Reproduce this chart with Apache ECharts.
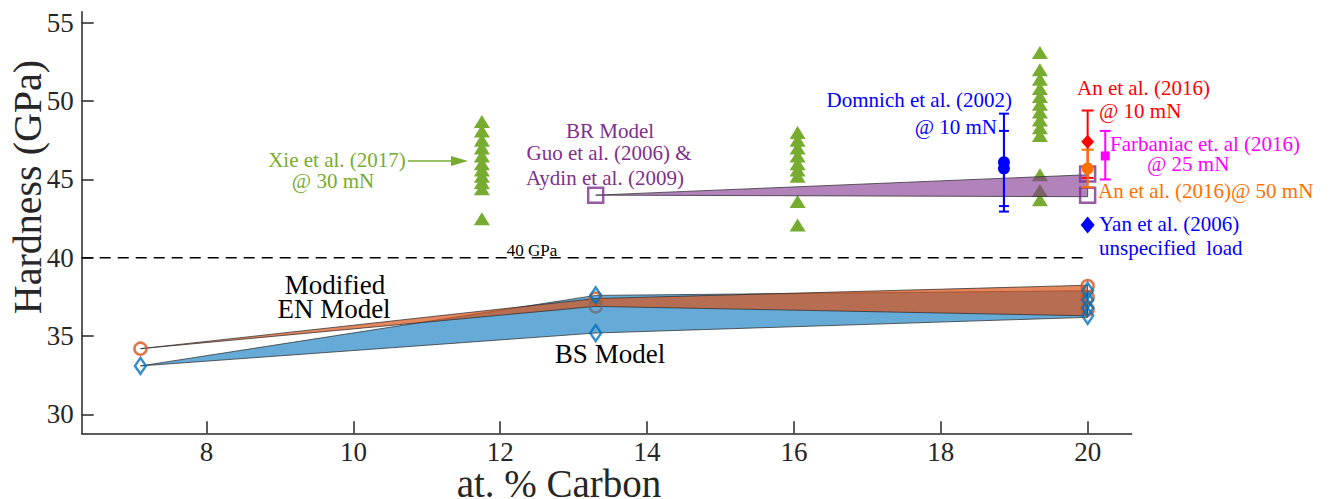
<!DOCTYPE html>
<html>
<head>
<meta charset="utf-8">
<script src="https://cdn.jsdelivr.net/npm/echarts@6/dist/echarts.min.js"></script>
<style>
  html, body { margin: 0; padding: 0; background: #fff; }
  #chart { width: 1330px; height: 499px; }
</style>
</head>
<body>
<div id="chart"></div>
<script>
const FONT = 'Liberation Serif, Times New Roman, serif';

// Axis ticks
const xTicks = [8, 10, 12, 14, 16, 18, 20];
const yTicks = [30, 35, 40, 45, 50, 55];

// Model bands (at. % C, lower / upper hardness in GPa)
const bandX = [7.1, 13.3, 20];
const bsLower = [33.1, 35.2, 36.2];
const bsUpper = [33.1, 37.6, 37.9];
const enLower = [34.2, 36.9, 36.3];
const enUpper = [34.2, 37.4, 38.25];
const brX = [13.3, 20];
const brLower = [44.0, 43.9];
const brUpper = [44.0, 45.3];

// Model points
const bsPtsX = [7.1, 13.3, 13.3, 20, 20, 20, 20];
const bsPtsY = [33.1, 37.6, 35.2, 37.9, 37.3, 36.8, 36.3];
const enPtsX = [7.1, 13.3, 20, 20, 20];
const enPtsY = [34.2, 37.4, 38.2, 37.5, 36.7];
const enMidX = [13.3];
const enMidY = [36.9];
const brPtsX = [13.3, 20, 20];
const brPtsY = [44.0, 45.35, 44.0];

// Xie et al. (2017) @ 30 mN
const xieX = [11.75, 16.05, 19.35];
const xieA = [48.7, 48.1, 47.5, 47.0, 46.5, 46.0, 45.6, 45.2, 44.8, 44.4, 42.5];
const xieB = [48.0, 47.5, 47.0, 46.5, 46.0, 45.6, 45.2, 43.6, 42.1];
const xieC = [53.1, 52.0, 51.4, 50.8, 50.3, 49.8, 49.3, 48.8, 48.3, 47.8, 45.3, 44.3, 43.7];

// Domnich et al. (2002) @ 10 mN
const domX = 18.86;
const domY = [46.1, 45.7];
const domLo = [42.95, 43.3];
const domHi = [49.2, 48.1];

// An et al. (2016) @ 10 mN and @ 50 mN
const an10 = { x: 20, y: 47.4, lo: 45.1, hi: 49.4 };
const an50 = { x: 20, y: 45.7, lo: 44.5, hi: 46.9 };
// Farbaniac et al. (2016) @ 25 mN
const farb = { x: 20.24, y: 46.5, lo: 45.0, hi: 48.1 };
// Yan et al. (2006)
const yan = { x: 20, y: 42.1 };

// 40 GPa reference
const refX = [6.3, 20];
const refY = 40;

const C = {
  axis: '#262626',
  bs: '#0072BD',
  en: '#D95319',
  br: '#7E2F8E',
  xie: '#77AC30',
  dom: '#0000FF',
  an10: '#FF0000',
  an50: '#FF7000',
  farb: '#FF00FF',
  yan: '#0000FF'
};

const pts = (xs, ys) => ys.map((y, i) => [Array.isArray(xs) ? xs[i] : xs, y]);

function band(xs, lo, hi, fill, z) {
  return {
    type: 'custom', z, silent: true,
    data: [[xs[0], lo[0]]],
    renderItem: (params, api) => {
      const p = [];
      xs.forEach((x, i) => p.push(api.coord([x, hi[i]])));
      for (let i = xs.length - 1; i >= 0; i--) p.push(api.coord([xs[i], lo[i]]));
      return {
        type: 'polygon', shape: { points: p },
        style: { fill, stroke: 'rgba(45,45,45,0.75)', lineWidth: 1 }
      };
    }
  };
}

function errBars(rows, color, cap, z) {
  return {
    type: 'custom', z, silent: true,
    data: rows,
    renderItem: (params, api) => {
      const x = api.value(0);
      const a = api.coord([x, api.value(1)]);
      const b = api.coord([x, api.value(2)]);
      const h = cap / 2;
      const st = { stroke: color, lineWidth: 2 };
      return {
        type: 'group', children: [
          { type: 'line', shape: { x1: a[0], y1: a[1], x2: b[0], y2: b[1] }, style: st },
          { type: 'line', shape: { x1: a[0] - h, y1: a[1], x2: a[0] + h, y2: a[1] }, style: st },
          { type: 'line', shape: { x1: b[0] - h, y1: b[1], x2: b[0] + h, y2: b[1] }, style: st }
        ]
      };
    }
  };
}

function scatter(data, symbol, size, color, opts) {
  opts = opts || {};
  return {
    type: 'scatter', data, symbol, symbolSize: size, z: opts.z || 5, silent: true,
    itemStyle: opts.hollow
      ? { color: 'rgba(0,0,0,0)', borderColor: color, borderWidth: opts.bw || 2.5 }
      : { color, opacity: 1 }
  };
}

function txt(text, x, y, color, size, align, extra) {
  return Object.assign({
    type: 'text', x, y, silent: true,
    style: {
      text, fill: color, fontFamily: FONT, fontSize: size,
      lineHeight: Math.round(size * 0.8),
      align: align || 'center', verticalAlign: 'middle'
    }
  }, extra || {});
}

const chart = echarts.init(document.getElementById('chart'), null, { renderer: 'svg' });

const axisCommon = {
  type: 'value',
  axisLine: { show: true, onZero: false, lineStyle: { color: C.axis, width: 1.5 } },
  axisTick: { show: true, inside: true, length: 12, lineStyle: { color: C.axis, width: 1.5 } },
  splitLine: { show: false },
  axisLabel: { color: C.axis, fontFamily: FONT, fontSize: 27, margin: 8 }
};

chart.setOption({
  animation: false,
  backgroundColor: '#fff',
  textStyle: { fontFamily: FONT },
  grid: { left: 81.7, right: 198.3, top: 11.8, bottom: 65.7 },
  xAxis: Object.assign({}, axisCommon, {
    min: 6.3, max: 20.6,
    axisTick: Object.assign({}, axisCommon.axisTick, { customValues: xTicks }),
    axisLabel: Object.assign({}, axisCommon.axisLabel, { customValues: xTicks, margin: 7, lineHeight: 24 })
  }),
  yAxis: Object.assign({}, axisCommon, {
    min: 28.8, max: 55.7,
    axisTick: Object.assign({}, axisCommon.axisTick, { customValues: yTicks }),
    axisLabel: Object.assign({}, axisCommon.axisLabel, { customValues: yTicks })
  }),
  series: [
    // 40 GPa reference line
    {
      type: 'line', data: refX.map(x => [x, refY]), symbol: 'none', z: 1, silent: true,
      lineStyle: { color: '#000', width: 1.5, type: [11, 7] }
    },
    band(bandX, bsLower, bsUpper, 'rgba(0,114,189,0.6)', 2),
    band(bandX, enLower, enUpper, 'rgba(217,83,25,0.7)', 3),
    scatter(pts(enPtsX, enPtsY), 'circle', 12, C.en, { hollow: true, z: 4 }),
    scatter(pts(enMidX, enMidY), 'circle', 12, '#6e6e78', { hollow: true, z: 4 }),
    scatter(pts(bsPtsX, bsPtsY), 'diamond', [11, 16], C.bs, { hollow: true, z: 5 }),
    // Xie et al. triangles
    scatter(pts(xieX[0], xieA), 'triangle', [16, 13], C.xie, { z: 6 }),
    scatter(pts(xieX[1], xieB), 'triangle', [16, 13], C.xie, { z: 6 }),
    scatter(pts(xieX[2], xieC), 'triangle', [16, 13], C.xie, { z: 6 }),
    // BR model
    band(brX, brLower, brUpper, 'rgba(126,47,142,0.6)', 7),
    scatter(pts(brPtsX, brPtsY), 'rect', 15, C.br, { hollow: true, z: 8 }),
    // Domnich et al.
    errBars(domY.map((y, i) => [domX, domLo[i], domHi[i]]), C.dom, 10, 9),
    scatter(pts(domX, domY), 'circle', 12, C.dom, { z: 10 }),
    // An et al. @ 10 mN
    errBars([[an10.x, an10.lo, an10.hi]], C.an10, 12, 9),
    scatter([[an10.x, an10.y]], 'diamond', [13, 14], C.an10, { z: 10 }),
    // An et al. @ 50 mN
    errBars([[an50.x, an50.lo, an50.hi]], C.an50, 12, 11),
    scatter([[an50.x, an50.y]], 'circle', 12, C.an50, { z: 12 }),
    // Farbaniac et al.
    errBars([[farb.x, farb.lo, farb.hi]], C.farb, 11, 9),
    scatter([[farb.x, farb.y]], 'rect', 9, C.farb, { z: 10 }),
    // Yan et al.
    scatter([[yan.x, yan.y]], 'diamond', [14, 17], C.yan, { z: 10 })
  ],
  graphic: [
    txt('Hardness (GPa)', 27, 187, '#262626', 40, 'center', { rotation: Math.PI / 2 }),
    txt('at. % Carbon', 559, 483, '#262626', 39),
    txt('40 GPa', 532, 250, '#000', 17),
    txt('Modified', 335, 285, '#000', 27),
    txt('EN Model', 334, 309, '#000', 27),
    txt('BS Model', 610, 354, '#000', 27),
    txt('Xie et al. (2017)', 337, 160, C.xie, 21),
    txt('@ 30 mN', 333, 181, C.xie, 21),
    { type: 'line', silent: true, shape: { x1: 408, y1: 161, x2: 455, y2: 161 }, style: { stroke: C.xie, lineWidth: 1.5 } },
    { type: 'polygon', silent: true, shape: { points: [[468, 161], [451, 156], [451, 166]] }, style: { fill: C.xie } },
    txt('BR Model', 610, 131, C.br, 21),
    txt('Guo et al. (2006) &', 609, 153, C.br, 21),
    txt('Aydin et al. (2009)', 605, 178, C.br, 21),
    txt('Domnich et al. (2002)', 1012, 100, C.dom, 21, 'right'),
    txt('@ 10 mN', 997, 127, C.dom, 21, 'right'),
    txt('An et al. (2016)', 1077, 88, C.an10, 21, 'left'),
    txt('@ 10 mN', 1099, 111, C.an10, 21, 'left'),
    txt('Farbaniac et. al (2016)', 1110, 144, C.farb, 21, 'left'),
    txt('@ 25 mN', 1147, 164, C.farb, 21, 'left'),
    txt('An et al. (2016)@ 50 mN', 1098, 191, C.an50, 21, 'left'),
    txt('Yan et al. (2006)', 1099, 224, C.yan, 21, 'left'),
    txt('unspecified  load', 1099, 248, C.yan, 21, 'left')
  ]
});
</script>
</body>
</html>
